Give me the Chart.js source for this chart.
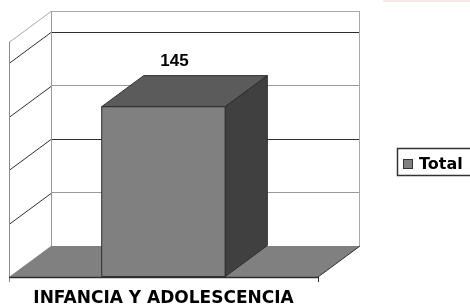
<!DOCTYPE html>
<html>
<head>
<meta charset="utf-8">
<script src="https://cdn.jsdelivr.net/npm/chart.js@4/dist/chart.umd.min.js"></script>
<style>
  html, body { margin: 0; padding: 0; background: #fff; }
  #chart { display: block; }
</style>
</head>
<body>
<canvas id="chart" width="470" height="306"></canvas>
<script>
const categories = ['INFANCIA Y ADOLESCENCIA'];
const totals = [145];
const seriesLabel = 'Total';
const yTicks = [0, 45.5, 91, 136.5, 182, 200];

// depth of the fake 3D box (front plane is shifted left/down)
const DX = 42;
const DY = 31;

const colors = {
    front: '#808080',
    top: '#5b5b5b',
    side: '#404040',
    floor: '#808080',
    dark: '#2e2e2e',
    light: '#a8a8a8'
};

function poly(ctx, pts, fill, stroke) {
    ctx.beginPath();
    ctx.moveTo(pts[0][0], pts[0][1]);
    for (let i = 1; i < pts.length; i++) ctx.lineTo(pts[i][0], pts[i][1]);
    ctx.closePath();
    if (fill) { ctx.fillStyle = fill; ctx.fill(); }
    if (stroke) { ctx.strokeStyle = stroke; ctx.lineWidth = 1; ctx.stroke(); }
}

function line(ctx, x1, y1, x2, y2, color, w) {
    ctx.beginPath();
    ctx.moveTo(x1, y1);
    ctx.lineTo(x2, y2);
    ctx.strokeStyle = color;
    ctx.lineWidth = w || 1;
    ctx.stroke();
}

const walls3d = {
    id: 'walls3d',
    beforeDatasetsDraw(chart) {
        const ctx = chart.ctx;
        const a = chart.chartArea;
        const y = chart.scales.y;
        ctx.save();

        // back wall edges
        line(ctx, a.left + 0.5, a.top, a.left + 0.5, a.bottom, '#9a9a9a');
        line(ctx, a.right - 0.5, a.top, a.right - 0.5, a.bottom, colors.light);

        // side wall lines
        y.ticks.forEach(function (t) {
            if (t.value === 0) return;
            const py = Math.round(y.getPixelForValue(t.value)) + 0.5;
            const c = t.value === y.max ? colors.light : colors.dark;
            line(ctx, a.left - DX, py + DY, a.left, py, c);
        });
        line(ctx, a.left - DX + 0.5, y.getPixelForValue(y.max) + DY, a.left - DX + 0.5, a.bottom + DY + 5, '#8a8a8a');

        // floor
        poly(ctx, [[a.left, a.bottom], [a.right, a.bottom], [a.right - DX, a.bottom + DY], [a.left - DX, a.bottom + DY]], colors.floor);
        line(ctx, a.right - DX, a.bottom + DY, a.right, a.bottom, colors.dark);
        line(ctx, a.left - DX, a.bottom + DY + 0.5, a.right - DX, a.bottom + DY + 0.5, colors.dark, 1.5);
        line(ctx, a.right - DX + 0.5, a.bottom + DY, a.right - DX + 0.5, a.bottom + DY + 5, colors.dark);

        ctx.restore();
    },
    afterDatasetsDraw(chart) {
        const ctx = chart.ctx;
        const meta = chart.getDatasetMeta(0);
        ctx.save();
        meta.data.forEach(function (bar, i) {
            const l = bar.x - bar.width / 2;
            const r = bar.x + bar.width / 2;
            const t = bar.y;
            const b = bar.base;
            // front face
            poly(ctx, [[l - DX, t + DY], [r - DX, t + DY], [r - DX, b + DY], [l - DX, b + DY]], colors.front, colors.dark);
            // top face
            poly(ctx, [[l - DX, t + DY], [r - DX, t + DY], [r, t], [l, t]], colors.top, colors.dark);
            // side face
            poly(ctx, [[r - DX, t + DY], [r, t], [r, b], [r - DX, b + DY]], colors.side, colors.dark);

            // value label
            ctx.fillStyle = '#000';
            ctx.font = 'bold 17px "Liberation Sans", Arial, sans-serif';
            ctx.textAlign = 'center';
            ctx.textBaseline = 'alphabetic';
            ctx.fillText(String(chart.data.datasets[0].data[i]), bar.x - 31, t - 10);
        });
        ctx.restore();
    },
    afterDraw(chart) {
        const ctx = chart.ctx;
        ctx.save();
        // faint pink strip at the top right of the original
        ctx.fillStyle = '#fbe6e4';
        ctx.fillRect(383, 0, 87, 2);

        // legend
        ctx.strokeStyle = '#333';
        ctx.lineWidth = 1.5;
        ctx.strokeRect(397.5, 148.5, 80, 27);
        ctx.fillStyle = colors.front;
        ctx.fillRect(403.5, 159.5, 9, 9);
        ctx.lineWidth = 1;
        ctx.strokeRect(403.5, 159.5, 9, 9);
        ctx.fillStyle = '#000';
        ctx.font = 'bold 16px "DejaVu Sans", sans-serif';
        ctx.textAlign = 'left';
        ctx.textBaseline = 'alphabetic';
        ctx.fillText(chart.data.datasets[0].label, 419, 169);
        ctx.restore();
    }
};

new Chart(document.getElementById('chart'), {
    type: 'bar',
    data: {
        labels: categories,
        datasets: [{
            label: seriesLabel,
            data: totals,
            backgroundColor: colors.front,
            borderWidth: 0,
            categoryPercentage: 0.4,
            barPercentage: 1
        }]
    },
    options: {
        responsive: false,
        animation: false,
        layout: { padding: { top: 11, right: 110, left: 0, bottom: 0 } },
        plugins: {
            legend: { display: false },
            tooltip: { enabled: false }
        },
        scales: {
            x: {
                grid: { display: false, drawTicks: false },
                border: { display: false },
                ticks: {
                    color: '#000',
                    font: { family: "'DejaVu Sans', sans-serif", weight: 'bold', size: 17 },
                    labelOffset: -DX,
                    padding: 42,
                    maxRotation: 0
                },
                afterFit: function (s) { s.height = 60; }
            },
            y: {
                min: 0,
                max: 200,
                afterBuildTicks: function (s) {
                    s.ticks = yTicks.map(v => ({ value: v }));
                },
                ticks: { display: false },
                grid: {
                    drawTicks: false,
                    lineWidth: 1,
                    color: function (c) {
                        const v = c.tick ? c.tick.value : 0;
                        if (v === 0) return 'rgba(0,0,0,0)';
                        if (v === 200) return colors.light;
                        return (v === 91 || v === 182) ? colors.dark : '#9a9a9a';
                    }
                },
                border: { display: false },
                afterFit: function (s) { s.width = 51; }
            }
        }
    },
    plugins: [walls3d]
});
</script>
</body>
</html>
